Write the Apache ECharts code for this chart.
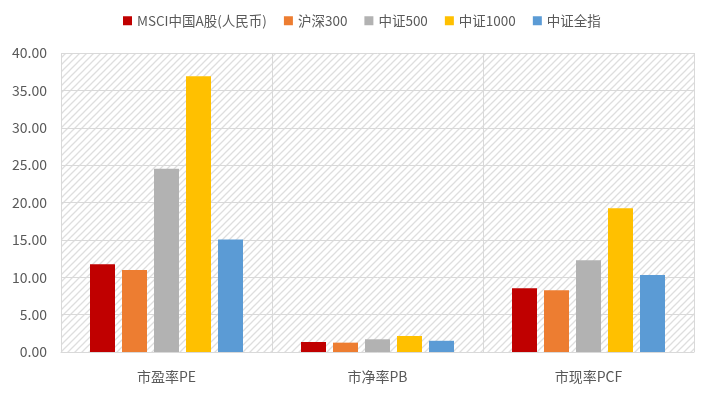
<!DOCTYPE html>
<html>
<head>
<meta charset="utf-8">
<script src="https://cdn.jsdelivr.net/npm/echarts@6/dist/echarts.min.js"></script>
<style>
html,body{margin:0;padding:0;background:#fff;}
#chart{width:702px;height:393px;}
</style>
</head>
<body>
<div id="chart"></div>
<script>
var categories = ['市盈率PE', '市净率PB', '市现率PCF'];
var seriesNames = ['MSCI中国A股(人民币)', '沪深300', '中证500', '中证1000', '中证全指'];
var msci = [11.75, 1.34, 8.52];
var hs300 = [10.97, 1.25, 8.25];
var zz500 = [24.5, 1.70, 12.27];
var zz1000 = [36.9, 2.14, 19.22];
var zzAll = [15.05, 1.50, 10.30];
var yTicks = [0, 40, 5];

var colors = ['#C00000', '#ED7D31', '#B2B2B2', '#FFC000', '#5B9BD5'];
var seriesData = [msci, hs300, zz500, zz1000, zzAll];

// hatch pattern
var pc = document.createElement('canvas');
pc.width = 7; pc.height = 7;
var ctx = pc.getContext('2d');
ctx.fillStyle = '#ffffff';
ctx.fillRect(0, 0, 7, 7);
ctx.strokeStyle = '#DEDEDE';
ctx.lineWidth = 1.3;
ctx.beginPath();
ctx.moveTo(-2, 9); ctx.lineTo(9, -2);
ctx.moveTo(-2, 2); ctx.lineTo(2, -2);
ctx.moveTo(5, 9); ctx.lineTo(9, 5);
ctx.stroke();

var chart = echarts.init(document.getElementById('chart'));
var font = '"Microsoft YaHei", "Noto Sans CJK SC", sans-serif';
chart.setOption({
  animation: false,
  color: colors,
  textStyle: {fontFamily: font},
  legend: {
    top: 9, left: 118,
    itemWidth: 9, itemHeight: 9, itemGap: 17,
    icon: 'rect',
    textStyle: {color: '#595959', fontSize: 13.5, fontFamily: font},
    data: seriesNames
  },
  grid: {
    left: 61, right: 8, top: 53, bottom: 41,
    show: true,
    backgroundColor: {image: pc, repeat: 'repeat'},
    borderWidth: 0
  },
  xAxis: {
    type: 'category',
    data: categories,
    axisLine: {show: true, lineStyle: {color: '#D9D9D9', width: 1}},
    axisTick: {show: false},
    splitLine: {show: true, lineStyle: {color: '#D9D9D9', width: 1}},
    axisLabel: {color: '#595959', fontSize: 14, margin: 18, fontFamily: font}
  },
  yAxis: {
    type: 'value',
    min: yTicks[0], max: yTicks[1], interval: yTicks[2],
    axisLine: {show: false},
    axisTick: {show: false},
    splitLine: {show: true, lineStyle: {color: '#D9D9D9', width: 1}},
    axisLabel: {color: '#595959', fontSize: 14, margin: 14, fontFamily: font,
      formatter: function (v) { return v.toFixed(2); }}
  },
  series: seriesNames.map(function (n, i) {
    return {
      name: n, type: 'bar', data: seriesData[i],
      barWidth: 25, barGap: '28%',
      itemStyle: {color: colors[i]}
    };
  })
});
</script>
</body>
</html>
